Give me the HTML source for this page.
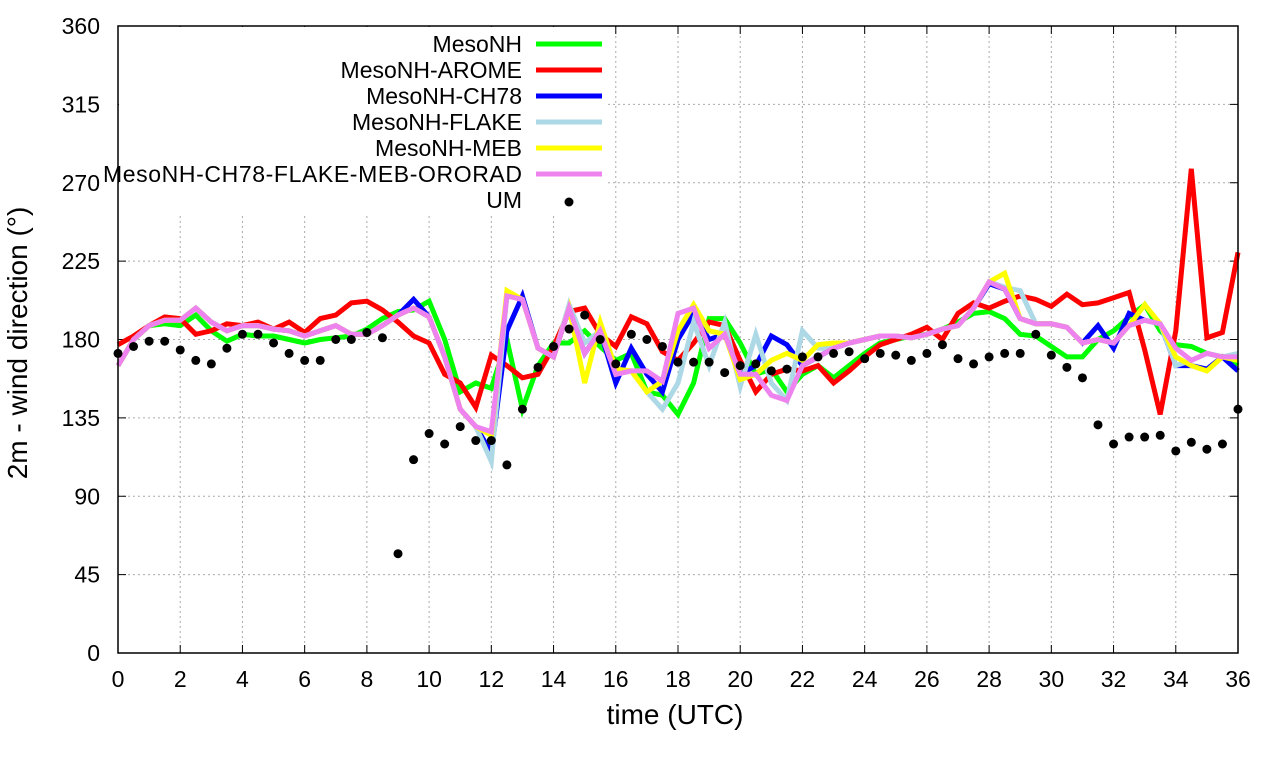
<!DOCTYPE html><html><head><style>body{margin:0;background:#fff}svg{display:block}text{font-family:"Liberation Sans",sans-serif}</style></head><body>
<svg id="s" width="1280" height="760" xmlns="http://www.w3.org/2000/svg"></svg>
<script>
const S=document.getElementById('s');let h='';
const X=t=>118+t*1120/36, Y=d=>653-d*627/360;
for(let t=0;t<=36;t+=2){const x=X(t);h+=`<line x1="${x}" y1="26" x2="${x}" y2="653" stroke="#aaa" stroke-dasharray="2,3"/>`;h+=`<text x="${x}" y="687" font-size="23" text-anchor="middle">${t}</text>`;h+=`<line x1="${x}" y1="653" x2="${x}" y2="645" stroke="#000"/><line x1="${x}" y1="26" x2="${x}" y2="34" stroke="#000"/>`;}
for(let d=0;d<=360;d+=45){const y=Y(d);h+=`<line x1="118" y1="${y}" x2="1238" y2="${y}" stroke="#aaa" stroke-dasharray="2,3"/>`;h+=`<text x="100" y="${y+8}" font-size="23" text-anchor="end">${d}</text>`;h+=`<line x1="118" y1="${y}" x2="126" y2="${y}" stroke="#000"/><line x1="1230" y1="${y}" x2="1238" y2="${y}" stroke="#000"/>`;}
h+=`<rect x="119" y="27" width="488" height="188" fill="#fff"/>`;
const g=[165,180,188,189,188,194,185,179,183,182,182,180,178,180,181,182,186,192,196,197,202,180,150,155,152,180,140,165,178,178,185,176,168,172,150,148,137,155,192,192,178,160,163,150,160,165,158,165,172,178,180,182,183,186,190,195,196,192,183,182,176,170,170,180,185,193,200,185,177,176,172,170,165];
const r=[177,182,188,193,192,183,185,189,188,190,186,190,184,192,194,201,202,197,190,182,178,160,155,141,171,165,158,160,176,196,198,183,176,193,189,173,168,178,190,188,168,150,160,163,162,165,155,162,170,177,180,183,187,180,195,201,198,202,205,203,199,206,200,201,204,207,174,137,185,278,181,184,230];
const v=[165,180,188,191,191,198,190,185,188,188,186,185,182,185,188,183,183,188,194,198,193,170,140,130,127,205,203,175,170,198,172,185,160,162,162,156,195,198,175,183,160,160,148,145,165,170,175,178,180,182,182,181,183,186,188,198,213,209,192,189,189,187,178,180,178,188,191,189,175,168,172,170,170];
const mod=(a,o)=>{const b=a.slice();for(const k in o)b[Math.round(k*2)]=o[k];return b};
const b=mod(v,{9.5:203,12:115,12.5:185,13:205,16:155,16.5:175,17:160,17.5:150,18:180,18.5:195,19:180,20:160,20.5:165,21:182,21.5:177,28:212,31.5:188,32:175,32.5:195,34:165,34.5:165,35:163,36:162});
const lb=mod(v,{12:110,14.5:200,15:178,17:150,17.5:140,18:155,18.5:190,19:165,19.5:190,20:153,20.5:183,21:155,21.5:145,22:185,22.5:175,28.5:210,29:208,34:165,36:172});
const yl=mod(v,{12:125,12.5:208,15:155,15.5:190,16:163,17:150,18:185,18.5:200,19:185,20:157,20.5:160,21:168,21.5:172,22:168,22.5:177,23:178,28.5:218,33:200,34:170,34.5:165,35:162,36:168});
const um=[172,176,179,179,174,168,166,175,183,183,178,172,168,168,180,180,184,181,57,111,126,120,130,122,122,108,140,164,176,186,194,180,166,183,180,176,167,167,167,161,165,166,162,163,170,170,172,173,169,172,171,168,172,177,169,166,170,172,172,183,171,164,158,131,120,124,124,125,116,121,117,120,140];
const pl=(a,c)=>{h+=`<polyline fill="none" stroke="${c}" stroke-width="5" stroke-linejoin="miter" points="${a.map((d,i)=>X(i/2).toFixed(1)+','+Y(d).toFixed(1)).join(' ')}"/>`};
pl(g,'#00ff00');pl(r,'#ff0000');pl(b,'#0000ff');pl(lb,'#add8e6');pl(yl,'#ffff00');pl(v,'#ee82ee');
um.forEach((d,i)=>{h+=`<circle cx="${X(i/2)}" cy="${Y(d)}" r="4.5" fill="#000"/>`});
const L=[['MesoNH','#00ff00'],['MesoNH-AROME','#ff0000'],['MesoNH-CH78','#0000ff'],['MesoNH-FLAKE','#add8e6'],['MesoNH-MEB','#ffff00'],['MesoNH-CH78-FLAKE-MEB-ORORAD','#ee82ee']];
L.forEach((l,i)=>{const y=44+i*26;h+=`<text x="522" y="${y+8}" font-size="23" text-anchor="end" textLength="${i==5?419:null}">${l[0]}</text><line x1="536" y1="${y}" x2="602" y2="${y}" stroke="${l[1]}" stroke-width="5"/>`});
h=h.replace(/ textLength="null"/g,'');
h+=`<text x="522" y="208" font-size="23" text-anchor="end">UM</text><circle cx="569" cy="202" r="4.5" fill="#000"/>`;
h+=`<rect x="118" y="26" width="1120" height="627" fill="none" stroke="#000" stroke-width="1.5"/>`;
h+=`<text x="675" y="724" font-size="28" text-anchor="middle">time (UTC)</text>`;
h+=`<text transform="translate(27,343) rotate(-90)" font-size="28" text-anchor="middle">2m - wind direction (°)</text>`;
S.innerHTML=h;
</script></body></html>
